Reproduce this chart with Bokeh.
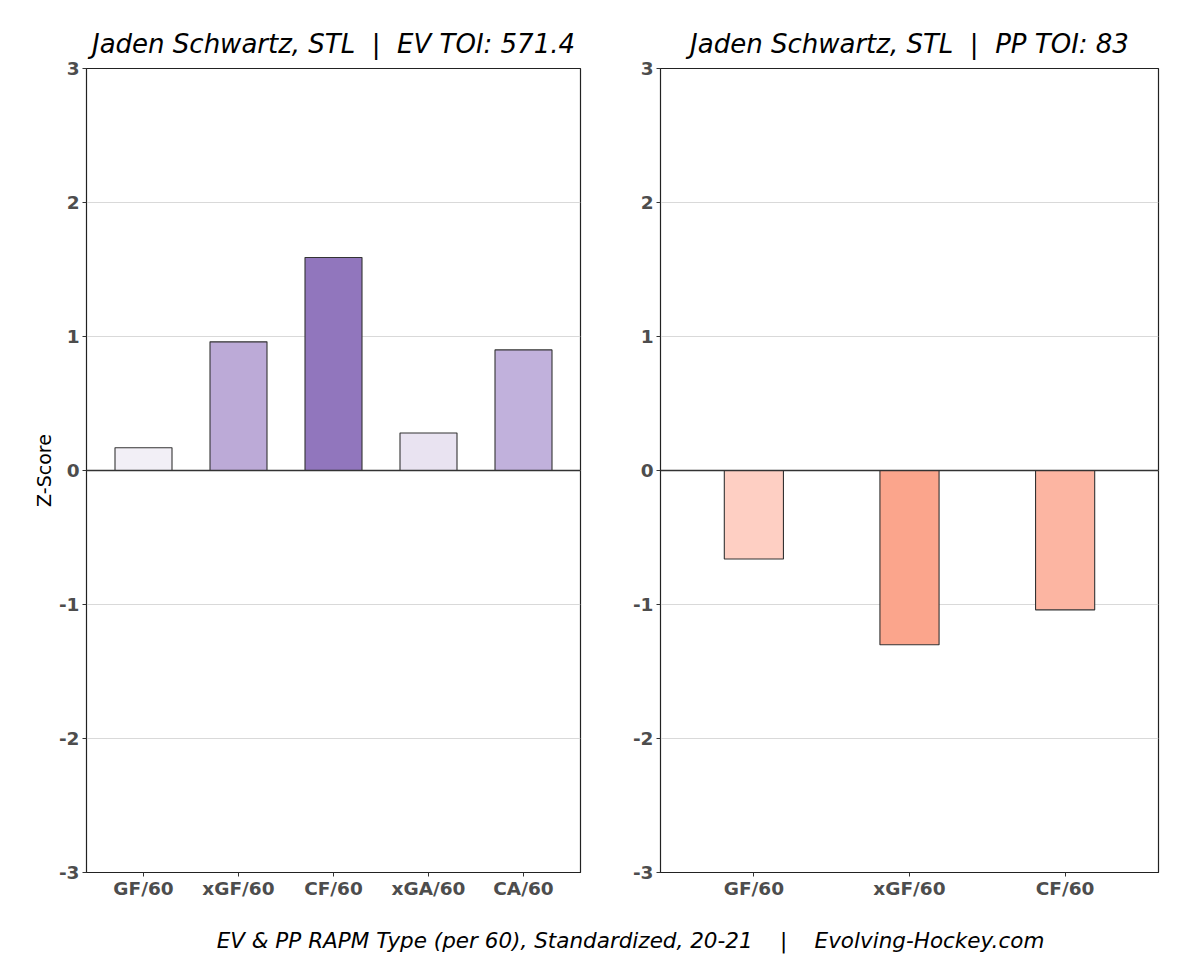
from bokeh.plotting import figure
from bokeh.layouts import column, row
from bokeh.models import Span, FactorRange, FixedTicker, Range1d, ColumnDataSource
from bokeh.core.properties import value
from bokeh.embed import file_html
from bokeh.resources import INLINE

FONT = "DejaVu Sans"
NB = "\u00a0"

ev_title = "Jaden Schwartz, STL" + NB * 2 + "|" + NB * 2 + "EV TOI: 571.4"
pp_title = "Jaden Schwartz, STL" + NB * 2 + "|" + NB * 2 + "PP TOI: 83"
footer = "EV & PP RAPM Type (per 60), Standardized, 20-21" + NB * 4 + "|" + NB * 4 + "Evolving-Hockey.com"

ev_cats = ["GF/60", "xGF/60", "CF/60", "xGA/60", "CA/60"]
ev_vals = [0.17, 0.96, 1.59, 0.28, 0.90]
ev_colors = ["#f2eff6", "#bcaad7", "#9176bd", "#e9e3f1", "#c1b1dc"]

pp_cats = ["GF/60", "xGF/60", "CF/60"]
pp_vals = [-0.66, -1.30, -1.04]
pp_colors = ["#fecfc3", "#fba58c", "#fcb5a2"]

y_ticks = [-3, -2, -1, 0, 1, 2, 3]
y_tick_labels = {t: str(t) for t in y_ticks}


def make_panel(title, cats, vals, colors, bar_w, width, bl, br, ylabel=None):
    xr = FactorRange(factors=cats, range_padding=0.1, range_padding_units="absolute")
    p = figure(x_range=xr, y_range=Range1d(-3, 3), width=width, height=912,
               output_backend="svg", toolbar_location=None,
               min_border_left=bl, min_border_right=br, min_border_top=68, min_border_bottom=40)
    p.title.text = title
    p.title.align = "center"
    p.title.text_font = FONT
    p.title.text_font_size = "26px"
    p.title.text_font_style = "italic"
    p.title.text_color = "black"
    p.title.standoff = 19
    src = ColumnDataSource(dict(x=cats, top=vals, color=colors))
    p.vbar(x="x", top="top", bottom=0, width=bar_w, fill_color="color",
           line_color="#333333", line_width=1.1, source=src)
    p.add_layout(Span(location=0, dimension="width", line_color="#333333", line_width=1.5))
    p.outline_line_color = "#222222"
    p.outline_line_width = 1.2
    p.xgrid.visible = False
    p.ygrid.grid_line_color = "#d9d9d9"
    p.ygrid.grid_line_width = 1
    p.yaxis.ticker = FixedTicker(ticks=y_ticks)
    p.yaxis.major_label_overrides = y_tick_labels
    for ax in (p.xaxis[0], p.yaxis[0]):
        ax.major_label_text_font = FONT
        ax.major_label_text_font_size = "18.5px"
        ax.major_label_text_font_style = "bold"
        ax.major_label_text_color = "#4d4d4d"
        ax.major_label_standoff = 3
        ax.axis_line_color = "#222222"
        ax.major_tick_line_color = "#333333"
        ax.major_tick_out = 4
        ax.major_tick_in = 0
        ax.minor_tick_line_color = None
    p.xaxis.major_label_standoff = 1
    if ylabel:
        p.yaxis.axis_label = ylabel
        p.yaxis.axis_label_text_font = FONT
        p.yaxis.axis_label_text_font_size = "19px"
        p.yaxis.axis_label_text_font_style = "normal"
        p.yaxis.axis_label_text_color = "black"
        p.yaxis.axis_label_standoff = 1
    p.background_fill_color = "white"
    p.border_fill_color = "white"
    return p


p1 = make_panel(ev_title, ev_cats, ev_vals, ev_colors, 0.6, 620, 86, 40, "Z-Score")
p2 = make_panel(pp_title, pp_cats, pp_vals, pp_colors, 0.38, 568, 40, 30)

pf = figure(width=1188, height=56, x_range=Range1d(0, 1188), y_range=Range1d(0, 56),
            output_backend="svg", toolbar_location=None,
            min_border=0, outline_line_color=None)
pf.axis.visible = False
pf.grid.visible = False
pf.text(x=[630], y=[28], text=[footer], text_font=value(FONT), text_font_size="21.5px",
        text_font_style="italic", text_align="center", text_baseline="middle", text_color="black")

layout = column(row(p1, p2), pf)
open("out.html", "w").write(file_html(layout, INLINE))
